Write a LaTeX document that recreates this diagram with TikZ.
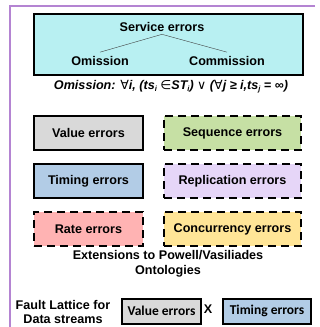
\documentclass[tikz,border=0pt]{standalone}
\usepackage{fontspec}
\setmainfont{Liberation Sans}
\newfontfamily\calfont{Carlito}
\newfontfamily\symfont{DejaVu Sans}
\definecolor{framepurple}{HTML}{B484D2}
\definecolor{svccyan}{HTML}{B8F0F2}
\definecolor{valgray}{HTML}{D9D9D9}
\definecolor{seqgreen}{HTML}{C6E0A4}
\definecolor{timblue}{HTML}{B2CCE6}
\definecolor{reppurple}{HTML}{E6D6F8}
\definecolor{ratepink}{HTML}{FFB3B3}
\definecolor{concyellow}{HTML}{FFE597}

\begin{document}
\begin{tikzpicture}[x=1pt,y=-1pt,font=\bfseries\fontsize{12.6}{14.5}\selectfont]
 \tikzstyle{errbox} = [draw=black,line width=2pt,inner sep=0,minimum width=109pt,minimum height=34pt]
 \tikzstyle{extbox} = [errbox,dash pattern=on 8pt off 5pt,minimum width=137pt]
 \tikzstyle{smallbox} = [draw=black,line width=2pt,inner sep=0,minimum height=25pt,font=\calfont\bfseries\fontsize{13.5}{15}\selectfont]
 \newcommand{\idx}[1]{\raisebox{-0.35ex}{\fontsize{7.5}{8}\selectfont #1}}
 \useasboundingbox (0,0) rectangle (320,327);

% Frame (only top and left edges show)
 \draw[framepurple,line width=2pt] (315,6) -- (10,6) -- (10,327);

% Service errors
 \node[draw=black,line width=2pt,fill=svccyan,minimum width=269pt,minimum height=61pt] (svcbox) at (168.5,44.5) {};
 \node[inner sep=2.5pt] (svc) at (162,27) {Service errors};
 \node[inner sep=4pt] (om) at (100,61) {Omission};
 \node[inner sep=4pt] (com) at (227,61) {Commission};
 \draw[black!75,thin] (om.north) -- (svc.south) -- (com.north);

 \node (omdef) at (171,87) {\itshape Omission: {\symfont\mdseries∀}i, (ts\idx{i} {\symfont\mdseries∈}ST\idx{i}) {\symfont\mdseries∨} ({\symfont\mdseries∀}j ≥ i,ts\idx{j} = ∞)};

% Error classes
 \node[errbox,fill=valgray] (val) at (88.5,133) {Value errors};
 \node[extbox,fill=seqgreen] (seq) at (232.5,133) {Sequence errors};
 \node[errbox,fill=timblue] (tim) at (88.5,181) {Timing errors};
 \node[extbox,fill=reppurple] (rep) at (232.5,181) {Replication errors};
 \node[errbox,dash pattern=on 8pt off 5pt,fill=ratepink] (rate) at (88.5,229) {Rate errors};
 \node[extbox,fill=concyellow] (conc) at (232.5,229) {Concurrency errors};

 \node[align=center,inner sep=0] (ext) at (168,264) {Extensions to Powell/Vasiliades\\Ontologies};

% Fault lattice
 \node[align=center,inner sep=0] (lat) at (63,312) {Fault Lattice for\\Data streams};
 \node[smallbox,fill=valgray,minimum width=79pt] (sval) at (161.5,311) {Value errors};
 \node (times) at (208,309) {X};
 \node[smallbox,fill=timblue,minimum width=88pt] (stim) at (267,311) {Timing errors};

\end{tikzpicture}
\end{document}
